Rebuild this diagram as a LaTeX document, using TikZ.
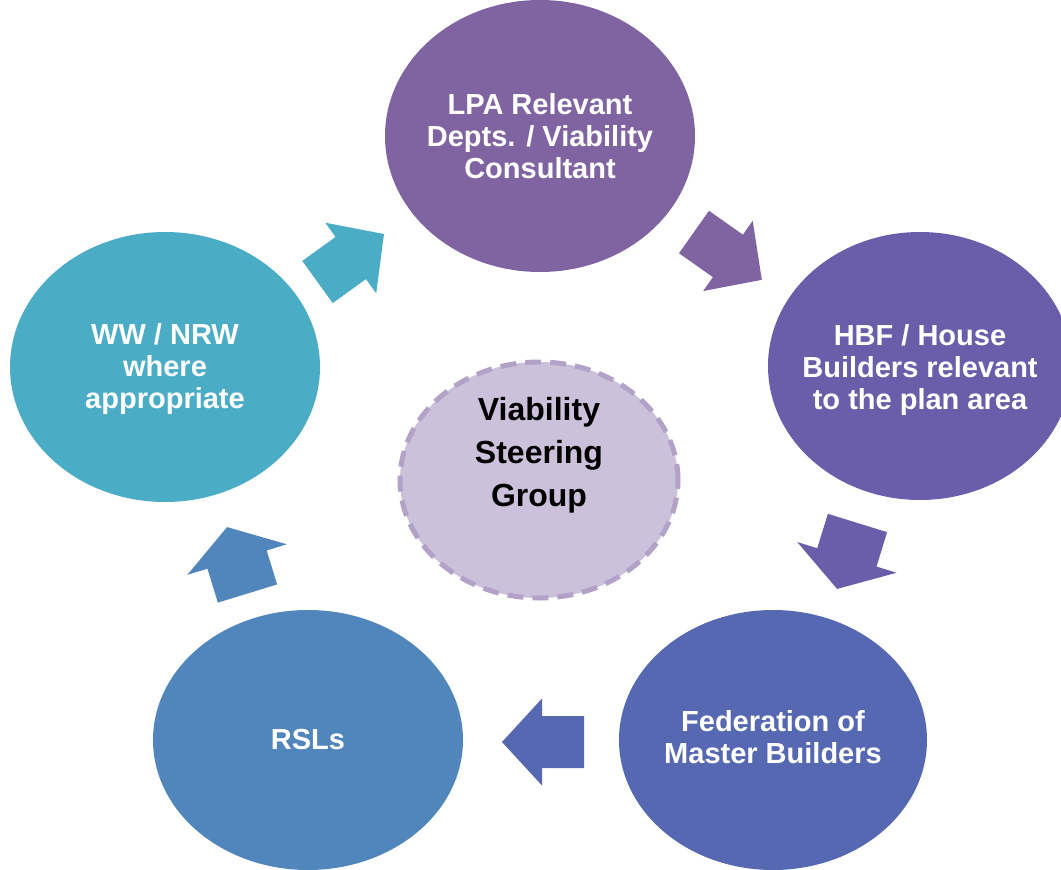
\documentclass[tikz,border=0pt]{standalone}
\usepackage{fontspec}
\setmainfont{Liberation Sans}
\usetikzlibrary{shapes.geometric}
\definecolor{cLPA}{HTML}{8064A2}
\definecolor{cHBF}{HTML}{6A5DA9}
\definecolor{cFED}{HTML}{5668B1}
\definecolor{cRSL}{HTML}{5186BC}
\definecolor{cWW}{HTML}{4BACC6}
\definecolor{cMidFill}{HTML}{CBC1DB}
\definecolor{cMidLine}{HTML}{B2A2C8}
\tikzset{
  bubble/.style={ellipse, draw=none, inner sep=0pt, align=center, text=white,
    font=\bfseries\fontsize{29}{32}\selectfont},
  midbubble/.style={ellipse, fill=cMidFill, draw=cMidLine, line width=5pt,
    dash pattern=on 16pt off 9pt, inner sep=0pt},
  blockarrow/.pic={
    \fill[pic actions] (0,-\s) -- (\L-\H,-\s) -- (\L-\H,-\h) -- (\L,0) -- (\L-\H,\h) -- (\L-\H,\s) -- (0,\s) -- cycle;
  }
}
\newcommand\myarrow[8]{% name, x, y, angle, L, H, s, h
  \def\L{#5}\def\H{#6}\def\s{#7}\def\h{#8}%
  \pic (#1) at (#2,#3) [rotate=#4] {blockarrow};
}
\begin{document}
\begin{tikzpicture}[x=1pt,y=-1pt]
\useasboundingbox (0,0) rectangle (1061,870);
\begin{scope}
\clip (0,0) rectangle (1061,870);
% ellipses
\node[bubble, fill=cLPA, minimum width=310pt, minimum height=272pt] (lpa) at (540,136) {};
\node[bubble, fill=cHBF, minimum width=304pt, minimum height=268pt] (hbf) at (920,366) {};
\node[bubble, fill=cFED, minimum width=308pt, minimum height=260pt] (fed) at (773,740) {};
\node[bubble, fill=cRSL, minimum width=310pt, minimum height=260pt] (rsl) at (308,740) {};
\node[bubble, fill=cWW, minimum width=310pt, minimum height=270pt] (ww) at (165,367) {};
\node[midbubble, minimum width=278pt, minimum height=236pt] (mid) at (539,480) {};
\end{scope}
% texts
\node[bubble] (lpat) at (lpa.center) {LPA Relevant\\Depts. / Viability\\Consultant};
\node[bubble] (hbft) at ([yshift=-4pt]hbf.center) {HBF / House\\Builders relevant\\to the plan area};
\node[bubble] (fedt) at ([yshift=3pt]fed.center) {Federation of\\Master Builders};
\node[bubble] (rslt) at (rsl.center) {RSLs};
\node[bubble] (wwt) at ([yshift=-2pt]ww.center) {WW / NRW\\where\\appropriate};
\node[align=center, text=black, inner sep=0pt, font=\bfseries\fontsize{32}{43}\selectfont] (midt) at (539,455) {Viability\\Steering\\Group};
% arrows
\begin{scope}[fill=cWW]\myarrow{a1}{317.5}{282}{35.8}{82}{41}{26}{43.5}\end{scope}
\begin{scope}[fill=cLPA]\myarrow{a2}{694}{232}{-35.2}{83}{41.5}{26}{43}\end{scope}
\begin{scope}[fill=cHBF]\myarrow{a3}{857.5}{523}{-107.2}{69}{33}{31}{52}\end{scope}
\begin{scope}[fill=cFED]\myarrow{a4}{584}{742}{180}{82}{40}{26}{43.5}\end{scope}
\begin{scope}[fill=cRSL]\myarrow{a5}{247.5}{593.5}{107.1}{69.5}{34}{31}{52}\end{scope}
\end{tikzpicture}
\end{document}
